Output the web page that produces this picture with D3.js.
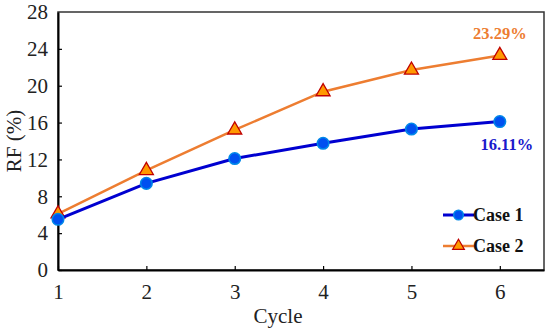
<!DOCTYPE html>
<html>
<head>
<meta charset="utf-8">
<script src="https://cdn.jsdelivr.net/npm/d3@7"></script>
<style>
  body { margin: 0; background: #fff; }
  svg text { font-family: "Liberation Serif", "Times New Roman", serif; }
</style>
</head>
<body>
<div class="chart"></div>
<script>
// data
var cycles = [1, 2, 3, 4, 5, 6];
var case1 = [5.5, 9.4, 12.1, 13.75, 15.3, 16.11];
var case2 = [6.1, 10.8, 15.2, 19.35, 21.7, 23.29];
var yTicks = [0, 4, 8, 12, 16, 20, 24, 28];

var width = 550, height = 332;
var margin = { left: 58, top: 12, right: 6, bottom: 62 };
var serif = "'Liberation Serif', 'Times New Roman', serif";

var svg = d3.select(".chart").append("svg")
    .attr("width", width)
    .attr("height", height)
    .attr("font-family", serif);

var x = d3.scaleLinear().domain([1, 6.5]).range([margin.left, width - margin.right]);
var y = d3.scaleLinear().domain([0, 28]).range([height - margin.bottom, margin.top]);

// frame (top and right)
svg.append("rect")
    .attr("x", x(1)).attr("y", y(28))
    .attr("width", x(6.5) - x(1)).attr("height", y(0) - y(28))
    .attr("fill", "none").attr("stroke", "#333").attr("stroke-width", 1.5);

// axes
var xAxis = svg.append("g")
    .attr("transform", "translate(0," + y(0) + ")")
    .call(d3.axisBottom(x).tickValues(cycles).tickFormat(d3.format("d"))
        .tickSize(-4).tickPadding(14).tickSizeOuter(0));
var yAxis = svg.append("g")
    .attr("transform", "translate(" + x(1) + ",0)")
    .call(d3.axisLeft(y).tickValues(yTicks).tickFormat(d3.format("d"))
        .tickSize(-4).tickPadding(10).tickSizeOuter(0));

[xAxis, yAxis].forEach(function (ax) {
    ax.attr("font-family", serif);
    ax.select(".domain").attr("stroke", "#000").attr("stroke-width", 2);
    ax.selectAll(".tick line").attr("stroke", "#000").attr("stroke-width", 1.2);
    ax.selectAll("text").attr("font-size", 21).attr("fill", "#222");
});
yAxis.selectAll(".tick").filter(function (d) { return d === 28; }).select("line").remove();

// axis titles
svg.append("text")
    .attr("x", (x(1) + x(6.5)) / 2 - 23).attr("y", 323)
    .attr("text-anchor", "middle").attr("font-size", 21).attr("fill", "#222")
    .text("Cycle");
svg.append("text")
    .attr("transform", "translate(21," + (y(0) + y(28)) / 2 + ") rotate(-90)")
    .attr("text-anchor", "middle").attr("font-size", 21).attr("fill", "#222")
    .text("RF (%)");

var line = d3.line()
    .x(function (d, i) { return x(cycles[i]); })
    .y(function (d) { return y(d); });

var tri = d3.symbol().type(d3.symbolTriangle).size(85);

// Case 2
svg.append("path").datum(case2)
    .attr("d", line).attr("fill", "none")
    .attr("stroke", "#ED7D31").attr("stroke-width", 2.5);
svg.append("g").selectAll("path").data(case2).enter().append("path")
    .attr("d", tri)
    .attr("transform", function (d, i) { return "translate(" + x(cycles[i]) + "," + y(d) + ")"; })
    .attr("fill", "#FF9900").attr("stroke", "#C00000").attr("stroke-width", 1.3);

// Case 1
svg.append("path").datum(case1)
    .attr("d", line).attr("fill", "none")
    .attr("stroke", "#0000D0").attr("stroke-width", 3);
svg.append("g").selectAll("circle").data(case1).enter().append("circle")
    .attr("cx", function (d, i) { return x(cycles[i]); })
    .attr("cy", function (d) { return y(d); })
    .attr("r", 5.8)
    .attr("fill", "#0050F0").attr("stroke", "#0088E8").attr("stroke-width", 1.5);

// end labels
svg.append("text")
    .attr("x", x(6)).attr("y", 39)
    .attr("text-anchor", "middle").attr("font-size", 16.5).attr("font-weight", "bold")
    .attr("fill", "#ED7D31").text(case2[5].toFixed(2) + "%");
svg.append("text")
    .attr("x", x(6) + 7).attr("y", 150)
    .attr("text-anchor", "middle").attr("font-size", 16.5).attr("font-weight", "bold")
    .attr("fill", "#1a1acc").text(case1[5].toFixed(2) + "%");

// legend
var legend = svg.append("g").attr("transform", "translate(443,0)");
var lg1 = legend.append("g").attr("transform", "translate(0,215)");
lg1.append("line").attr("x1", 0).attr("x2", 31).attr("stroke", "#0000D0").attr("stroke-width", 3);
lg1.append("circle").attr("cx", 15.5).attr("r", 4.8)
    .attr("fill", "#0050F0").attr("stroke", "#0088E8").attr("stroke-width", 1.5);
lg1.append("text").attr("x", 30).attr("y", 6).attr("font-size", 18).attr("font-weight", "bold")
    .attr("fill", "#111").text("Case 1");
var lg2 = legend.append("g").attr("transform", "translate(0,246)");
lg2.append("line").attr("x1", 0).attr("x2", 31).attr("stroke", "#ED7D31").attr("stroke-width", 2.5);
lg2.append("path").attr("d", d3.symbol().type(d3.symbolTriangle).size(60))
    .attr("transform", "translate(15.5,0)")
    .attr("fill", "#FF9900").attr("stroke", "#C00000").attr("stroke-width", 1.2);
lg2.append("text").attr("x", 30).attr("y", 6).attr("font-size", 18).attr("font-weight", "bold")
    .attr("fill", "#111").text("Case 2");
</script>
</body>
</html>
